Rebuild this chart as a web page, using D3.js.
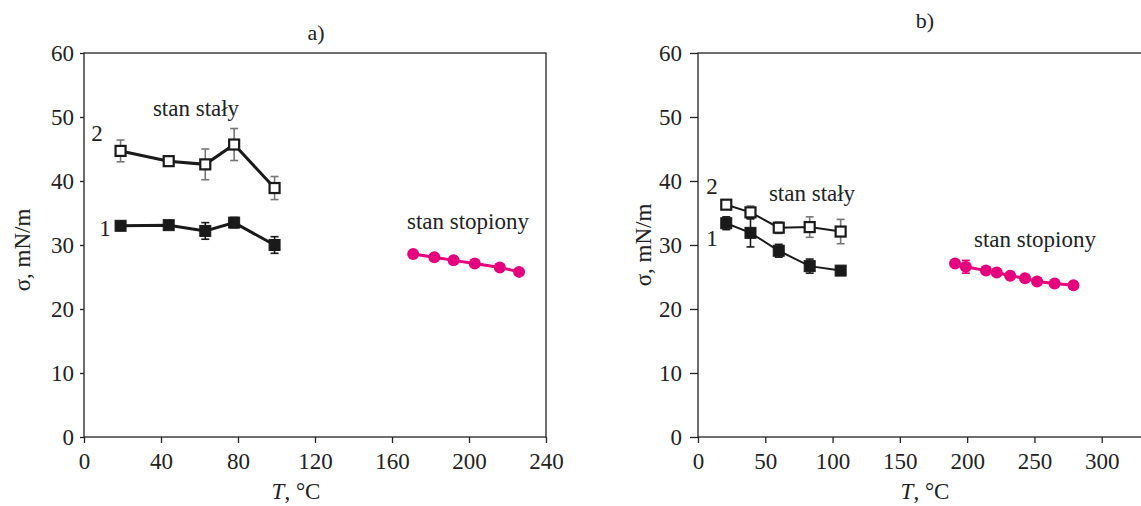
<!DOCTYPE html>
<html>
<head>
<meta charset="utf-8">
<script src="https://cdn.jsdelivr.net/npm/d3@7"></script>
<style>
  body { margin: 0; background: #fff; }
  svg { display: block; font-family: "Liberation Serif", "Times New Roman", serif; }
</style>
</head>
<body>
<svg id="chart" width="1141" height="506"></svg>
<script>
// panel a) – solid state, series 1 (filled) and 2 (open)
const aTemp = [19, 44, 63, 78, 99];
const aSeries1 = [33.0, 33.1, 32.2, 33.5, 30.0];
const aErr1 = [0.3, 0.5, 1.3, 0.8, 1.3];
const aSeries2 = [44.7, 43.1, 42.6, 45.7, 38.9];
const aErr2 = [1.7, 0.3, 2.4, 2.5, 1.8];
// panel a) – molten state
const aMeltTemp = [171, 182, 192, 203, 216, 226];
const aMelt = [28.6, 28.1, 27.6, 27.1, 26.5, 25.8];
const aTicks = [0, 40, 80, 120, 160, 200, 240];

// panel b)
const bTemp = [21, 39, 60, 83, 106];
const bSeries1 = [33.4, 31.9, 29.1, 26.7, 26.0];
const bErr1 = [1.0, 2.2, 1.0, 1.1, 0.4];
const bSeries2 = [36.3, 35.1, 32.7, 32.8, 32.1];
const bErr2 = [0.6, 1.0, 0.9, 1.6, 1.9];
const bMeltTemp = [191, 199, 214, 222, 232, 243, 252, 265, 279];
const bMelt = [27.1, 26.6, 26.0, 25.7, 25.2, 24.8, 24.3, 24.0, 23.7];
const bMeltErr = [0.3, 1.0, 0.3, 0.2, 0.3, 0.3, 0.2, 0.2, 0.2];
const bTicks = [0, 50, 100, 150, 200, 250, 300];

const yTicks = [0, 10, 20, 30, 40, 50, 60];
const magenta = "#e5007d";
const fs = 23;

const svg = d3.select("#chart");

function drawPanel(p) {
  const x = d3.scaleLinear().domain(p.xDomain).range([p.left, p.right]);
  const y = d3.scaleLinear().domain([0, 60]).range([437, 53]);
  const g = svg.append("g");

  // frame
  g.append("rect")
    .attr("x", p.left).attr("y", 53)
    .attr("width", p.right - p.left).attr("height", 437 - 53)
    .attr("fill", "none").attr("stroke", "#222").attr("stroke-width", 1.3);

  // axes
  const xAxis = g.append("g")
    .attr("transform", "translate(0,437)")
    .call(d3.axisBottom(x).tickValues(p.xTicks).tickSize(6).tickPadding(10).tickFormat(d3.format("d")));
  const yAxis = g.append("g")
    .attr("transform", `translate(${p.left},0)`)
    .call(d3.axisLeft(y).tickValues(yTicks).tickSize(p.yTickSize).tickPadding(p.yPad).tickFormat(d3.format("d")));
  [xAxis, yAxis].forEach(a => {
    a.select(".domain").remove();
    a.selectAll("line").attr("stroke", "#222").attr("stroke-width", 1.3);
    a.selectAll("text").attr("font-family", "Liberation Serif, serif").attr("font-size", fs).attr("fill", "#222");
  });

  // titles
  g.append("text").attr("x", p.titleX).attr("y", p.titleY)
    .attr("text-anchor", "middle").attr("font-size", fs - 1).attr("fill", "#222").text(p.title);
  const xl = g.append("text").attr("x", p.xLabelX).attr("y", 499)
    .attr("text-anchor", "middle").attr("font-size", fs).attr("fill", "#222");
  xl.append("tspan").attr("font-style", "italic").text("T");
  xl.append("tspan").text(", °C");
  g.append("text")
    .attr("transform", `translate(${p.yLabelX},${p.yLabelY}) rotate(-90)`)
    .attr("text-anchor", "middle").attr("font-size", fs).attr("fill", "#222")
    .text("σ, mN/m");

  const line = d3.line().x(d => x(d[0])).y(d => y(d[1]));

  function series(temps, vals, errs, opts) {
    const pts = temps.map((t, i) => [t, vals[i], errs ? errs[i] : 0]);
    g.append("path").datum(pts).attr("d", line)
      .attr("fill", "none").attr("stroke", opts.lineColor).attr("stroke-width", opts.lineWidth);
    if (errs) {
      const eb = g.append("g").attr("stroke", opts.errColor).attr("stroke-width", 1.6);
      pts.forEach(d => {
        const x0 = x(d[0]), y1 = y(d[1] + d[2]), y2 = y(d[1] - d[2]);
        eb.append("line").attr("x1", x0).attr("x2", x0).attr("y1", y1).attr("y2", y2);
        eb.append("line").attr("x1", x0 - 4).attr("x2", x0 + 4).attr("y1", y1).attr("y2", y1);
        eb.append("line").attr("x1", x0 - 4).attr("x2", x0 + 4).attr("y1", y2).attr("y2", y2);
      });
    }
    if (opts.marker === "circle") {
      g.selectAll(null).data(pts).join("circle")
        .attr("cx", d => x(d[0])).attr("cy", d => y(d[1])).attr("r", 6)
        .attr("fill", opts.lineColor);
    } else {
      const s = opts.size;
      g.selectAll(null).data(pts).join("rect")
        .attr("x", d => x(d[0]) - s / 2).attr("y", d => y(d[1]) - s / 2)
        .attr("width", s).attr("height", s)
        .attr("fill", opts.marker === "open" ? "#fff" : "#1a1a1a")
        .attr("stroke", "#1a1a1a").attr("stroke-width", opts.marker === "open" ? 2.2 : 1);
    }
  }

  series(p.temp, p.s2, p.e2, { marker: "open", size: 10, lineColor: "#1a1a1a", lineWidth: p.lw, errColor: "#777" });
  series(p.temp, p.s1, p.e1, { marker: "filled", size: 11, lineColor: "#1a1a1a", lineWidth: p.lw, errColor: "#1a1a1a" });
  series(p.meltTemp, p.melt, p.meltErr, { marker: "circle", lineColor: magenta, lineWidth: 3, errColor: magenta });

  // annotations
  p.notes.forEach(n => {
    g.append("text").attr("x", n[0]).attr("y", n[1]).attr("text-anchor", "middle")
      .attr("font-size", fs).attr("fill", "#222").text(n[2]);
  });
}

drawPanel({
  xDomain: [0, 240], left: 84, right: 546, xTicks: aTicks,
  yTickSize: 4, yPad: 6, lw: 3,
  title: "a)", titleX: 316, titleY: 40,
  xLabelX: 296, yLabelX: 30, yLabelY: 250,
  temp: aTemp, s1: aSeries1, e1: aErr1, s2: aSeries2, e2: aErr2,
  meltTemp: aMeltTemp, melt: aMelt, meltErr: null,
  notes: [[196, 116, "stan stały"], [468, 229, "stan stopiony"], [97, 141, "2"], [105, 236, "1"]]
});

drawPanel({
  xDomain: [0, 350], left: 698, right: 1169, xTicks: bTicks,
  yTickSize: 8, yPad: 8, lw: 2,
  title: "b)", titleX: 925, titleY: 28,
  xLabelX: 925, yLabelX: 651, yLabelY: 245,
  temp: bTemp, s1: bSeries1, e1: bErr1, s2: bSeries2, e2: bErr2,
  meltTemp: bMeltTemp, melt: bMelt, meltErr: bMeltErr,
  notes: [[812, 201, "stan stały"], [1035, 247, "stan stopiony"], [712, 194, "2"], [712, 246, "1"]]
});
</script>
</body>
</html>
